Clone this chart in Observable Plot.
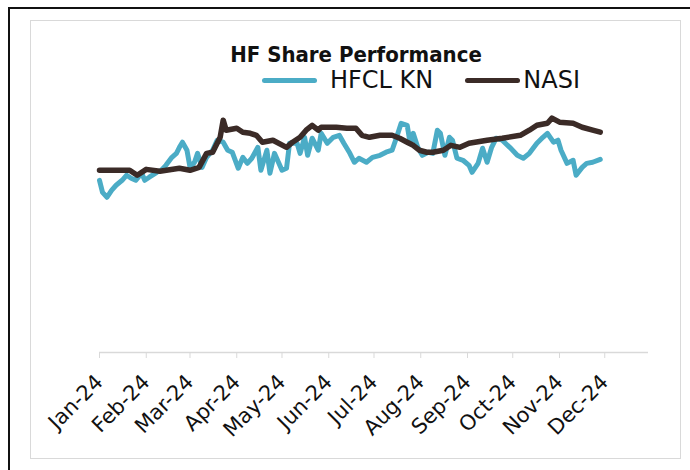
<!DOCTYPE html>
<html>
<head>
<meta charset="utf-8">
<script src="https://cdn.jsdelivr.net/npm/d3@7"></script>
<script src="https://cdn.jsdelivr.net/npm/@observablehq/plot@0.6"></script>
<style>
  html, body { margin: 0; padding: 0; background: #fff; overflow: hidden; }
  #wrap { position: relative; width: 690px; height: 470px; overflow: hidden; font-family: "DejaVu Sans", sans-serif; }
  #chart { position: absolute; left: 0; top: 0; }
  #outer { position: absolute; left: 8px; top: 7px; width: 720px; height: 500px; border: 2px solid #111; box-sizing: border-box; }
  #inner { position: absolute; left: 30px; top: 20px; width: 651px; height: 439px; border: 1.5px solid #d9d9d9; box-sizing: border-box; }
  #title { position: absolute; left: 0; width: 712px; top: 44px; text-align: center; font-weight: bold; font-size: 22px; line-height: 22px; font-stretch: condensed; color: #111; }
  #legend { position: absolute; left: 262px; top: 68px; display: flex; align-items: center; font-size: 24px; line-height: 24px; color: #111; }
  .item { display: flex; align-items: center; }
  .swatch { width: 55px; height: 5px; border-radius: 3px; }
  g[aria-label="x-axis tick"] { stroke: #d9d9d9; }
</style>
</head>
<body>
<div id="wrap">
  <div id="outer"></div>
  <div id="inner"></div>
  <div id="chart"></div>
  <div id="title"></div>
  <div id="legend"></div>
</div>
<script>
const titleText = "HF Share Performance";
const seriesNames = ["HFCL KN", "NASI"];
const seriesColors = ["#4bacc6", "#3b2b27"];

const tickDates = ["2024-01-01","2024-02-01","2024-03-01","2024-04-01","2024-05-01","2024-06-01","2024-07-01","2024-08-01","2024-09-01","2024-10-01","2024-11-01","2024-12-01"];
const tickLabels = ["Jan-24","Feb-24","Mar-24","Apr-24","May-24","Jun-24","Jul-24","Aug-24","Sep-24","Oct-24","Nov-24","Dec-24"];

const hfclDates = ["2024-01-01","2024-01-03","2024-01-06","2024-01-09","2024-01-12","2024-01-16","2024-01-19","2024-01-22","2024-01-25","2024-01-29","2024-01-31",
"2024-02-03","2024-02-08","2024-02-11","2024-02-14","2024-02-18","2024-02-21","2024-02-23","2024-02-25","2024-02-28",
"2024-03-01","2024-03-04","2024-03-06","2024-03-09","2024-03-12","2024-03-16","2024-03-19","2024-03-23","2024-03-26","2024-03-29",
"2024-04-02","2024-04-05","2024-04-08","2024-04-11","2024-04-15","2024-04-17","2024-04-19","2024-04-21","2024-04-23","2024-04-26",
"2024-05-01","2024-05-04","2024-05-06","2024-05-11","2024-05-13","2024-05-16","2024-05-18","2024-05-21","2024-05-25","2024-05-27","2024-05-31",
"2024-06-04","2024-06-08","2024-06-11","2024-06-15","2024-06-18","2024-06-21","2024-06-26","2024-06-30",
"2024-07-05","2024-07-09","2024-07-13","2024-07-16","2024-07-19","2024-07-23","2024-07-25","2024-07-27","2024-07-30",
"2024-08-02","2024-08-06","2024-08-09","2024-08-12","2024-08-14","2024-08-17","2024-08-20","2024-08-22","2024-08-25","2024-08-29",
"2024-09-02","2024-09-04","2024-09-08","2024-09-11","2024-09-14","2024-09-17","2024-09-20","2024-09-24","2024-09-29",
"2024-10-04","2024-10-08","2024-10-12","2024-10-17","2024-10-21","2024-10-24","2024-10-28","2024-10-31",
"2024-11-02","2024-11-06","2024-11-10","2024-11-12","2024-11-16","2024-11-19","2024-11-23","2024-11-28"];
const hfclValues = [94.5,87.9,85.2,89.0,91.8,94.5,97.3,95.6,94.5,98.4,94.5,
96.2,98.9,100.0,102.7,107.1,109.3,112.6,115.4,111.0,
101.6,104.4,109.3,101.6,107.1,111.0,116.5,115.4,111.0,109.9,
101.1,107.1,103.8,106.6,112.6,100.0,105.5,111.0,98.4,109.3,
100.0,101.1,114.8,114.8,109.3,118.1,108.2,117.6,111.0,120.3,114.8,
118.1,119.2,114.8,109.3,104.4,106.6,104.4,107.1,
108.2,109.9,111.0,118.1,125.8,124.7,114.8,120.3,112.6,
108.2,109.9,109.3,122.0,120.3,108.2,118.1,116.5,106.6,105.5,
102.7,98.9,103.8,112.1,104.4,112.6,117.6,116.5,112.6,
108.2,106.6,109.3,114.8,118.1,120.3,115.4,116.5,
111.0,103.8,105.5,97.3,101.6,103.8,104.4,106.0];

const nasiDates = ["2024-01-01","2024-01-21","2024-01-26","2024-02-01","2024-02-10","2024-02-23","2024-03-01","2024-03-07","2024-03-12","2024-03-16","2024-03-21","2024-03-23","2024-03-25",
"2024-04-01","2024-04-05","2024-04-10","2024-04-14","2024-04-18","2024-04-25","2024-05-04","2024-05-08","2024-05-13","2024-05-17","2024-05-21","2024-05-25","2024-05-27",
"2024-06-06","2024-06-13","2024-06-19","2024-06-23","2024-06-28","2024-07-05","2024-07-13","2024-07-18","2024-07-23","2024-07-27","2024-07-31",
"2024-08-05","2024-08-09","2024-08-16","2024-08-21","2024-08-27","2024-09-02","2024-09-14","2024-09-24","2024-10-06","2024-10-12","2024-10-17","2024-10-24","2024-10-27",
"2024-11-01","2024-11-10","2024-11-16","2024-11-23","2024-11-28"];
const nasiValues = [100.0,100.0,97.3,100.5,99.5,101.1,100.0,101.6,109.3,109.9,118.1,127.5,122.0,
123.1,120.9,120.3,119.2,115.4,116.5,112.6,115.4,118.1,122.0,124.7,122.0,123.6,
123.6,123.1,123.1,119.2,118.1,119.2,119.2,117.6,115.4,113.7,111.0,
109.9,109.9,111.0,113.7,112.6,114.8,116.5,117.6,119.2,122.0,124.7,125.8,128.6,
126.4,125.8,123.6,122.0,120.9];

const parse = d3.utcParse("%Y-%m-%d");
const hfcl = hfclDates.map((d, i) => ({date: parse(d), value: hfclValues[i]}));
const nasi = nasiDates.map((d, i) => ({date: parse(d), value: nasiValues[i]}));
const ticks = tickDates.map(parse);
const labelFor = d => tickLabels[ticks.findIndex(t => +t === +d)];

const chart = Plot.plot({
  width: 690,
  height: 470,
  marginLeft: 99,
  marginRight: 42,
  marginTop: 24,
  marginBottom: 118,
  style: {background: "transparent", fontFamily: "DejaVu Sans, sans-serif"},
  x: {type: "utc", domain: [parse("2024-01-01"), parse("2024-12-30")], axis: null},
  y: {domain: [0, 180], axis: null},
  marks: [
    Plot.ruleY([0], {stroke: "#d9d9d9", strokeWidth: 1.5}),
    Plot.axisX(ticks, {tickSize: 6, tickPadding: 20, tickRotate: -45, tickFormat: labelFor, fontSize: 21, fill: "#111"}),
    Plot.line(hfcl, {x: "date", y: "value", stroke: seriesColors[0], strokeWidth: 5, strokeLinejoin: "round", strokeLinecap: "round"}),
    Plot.line(nasi, {x: "date", y: "value", stroke: seriesColors[1], strokeWidth: 5.5, strokeLinejoin: "round", strokeLinecap: "round"})
  ]
});
document.getElementById("chart").appendChild(chart);

document.getElementById("title").textContent = titleText;
const legend = document.getElementById("legend");
seriesNames.forEach((name, i) => {
  const item = document.createElement("div");
  item.className = "item";
  item.style.marginRight = i === 0 ? "32px" : "0";
  const sw = document.createElement("span");
  sw.className = "swatch";
  sw.style.background = seriesColors[i];
  sw.style.marginRight = i === 0 ? "13px" : "3px";
  const lab = document.createElement("span");
  lab.textContent = name;
  item.appendChild(sw);
  item.appendChild(lab);
  legend.appendChild(item);
});
</script>
</body>
</html>
